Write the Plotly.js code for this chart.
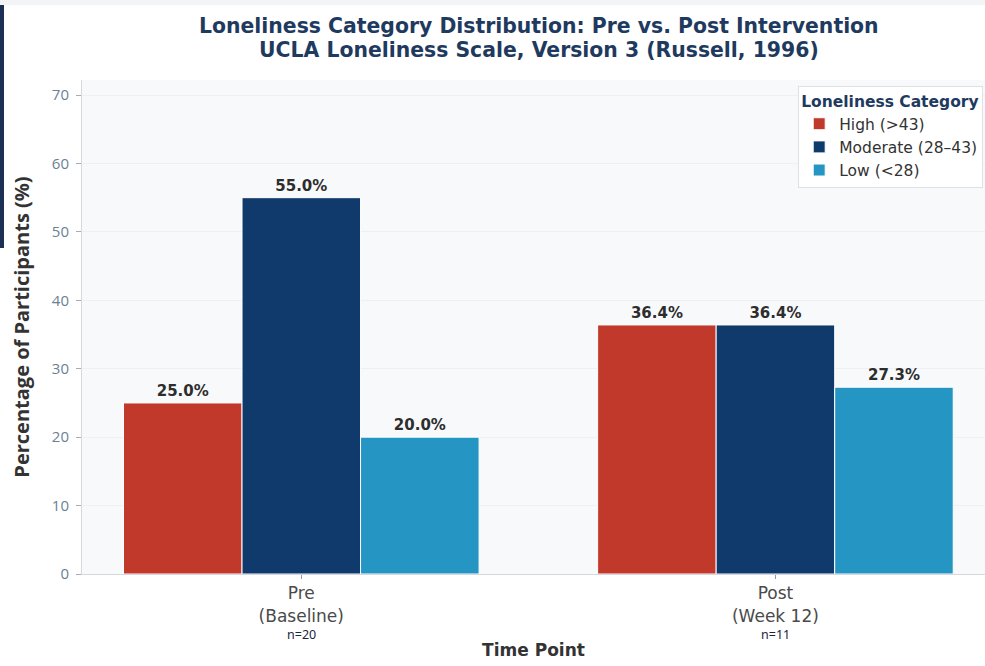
<!DOCTYPE html>
<html>
<head>
<meta charset="utf-8">
<script src="https://cdn.plot.ly/plotly-3.0.1.min.js"></script>
<style>html,body{margin:0;padding:0;overflow:hidden;background:#fff}#chart{width:985px;height:666px}</style>
</head>
<body>
<div id="chart"></div>
<script>
const timePoints = [0, 1];
const tickLabels = ["Pre<br>(Baseline)", "Post<br>(Week 12)"];
const sampleSizes = ["n=20", "n=11"];
const categories = ["High (>43)", "Moderate (28–43)", "Low (<28)"];
const highValues = [25.0, 36.4];
const moderateValues = [55.0, 36.4];
const lowValues = [20.0, 27.3];
const colors = ["#c0392b", "#0f3a6b", "#2596c4"];
const titleLines = ["Loneliness Category Distribution: Pre vs. Post Intervention", "UCLA Loneliness Scale, Version 3 (Russell, 1996)"];

const seriesValues = [highValues, moderateValues, lowValues];
const traces = categories.map((name, i) => ({
  type: "bar",
  name: name,
  x: timePoints,
  y: seriesValues[i],
  marker: {color: colors[i], line: {color: "#ffffff", width: 1}},
  text: seriesValues[i].map(v => v.toFixed(1) + "%"),
  textposition: "outside",
  cliponaxis: false,
  textfont: {family: "DejaVu Sans", size: 15, color: "#2d2d2d", weight: "bold"},
  hoverinfo: "skip"
}));

const plotTop = 80, plotBottom = 574, plotH = plotBottom - plotTop;
const pyToPaper = py => (plotBottom - py) / plotH;

const annotations = sampleSizes.map((s, i) => ({
  x: timePoints[i], xref: "x", y: pyToPaper(634), yref: "paper", yanchor: "middle",
  text: s, showarrow: false,
  font: {family: "Noto Sans", size: 12.5, color: "#1a2540"}
})).concat(titleLines.map((t, i) => ({
  x: (539 - 82) / (985 - 82), xref: "paper", y: pyToPaper(i === 0 ? 26 : 50), yref: "paper", yanchor: "middle", xanchor: "center",
  text: "<b>" + t + "</b>", showarrow: false,
  font: {family: "DejaVu Sans", size: 20.4, color: "#1f3a5f"}
})));

const layout = {
  width: 985, height: 666,
  margin: {l: 82, r: 0, t: plotTop, b: 666 - plotBottom},
  paper_bgcolor: "#ffffff",
  plot_bgcolor: "#f8f9fb",
  barmode: "group",
  bargap: 0.25,
  bargroupgap: 0,
  xaxis: {
    range: [-0.4625, 1.442],
    tickvals: timePoints,
    ticktext: tickLabels,
    tickfont: {family: "DejaVu Sans", size: 17, color: "#4a4a4a"},
    ticks: "outside", ticklen: 4, tickcolor: "#999",
    showline: true, linecolor: "#d5d9df", linewidth: 1,
    showgrid: false, zeroline: false,
    title: {text: "<b>Time Point</b>", font: {family: "DejaVu Sans", size: 17, color: "#333"}, standoff: 19},
    fixedrange: true
  },
  yaxis: {
    range: [0, 72.2],
    tickvals: [0, 10, 20, 30, 40, 50, 60, 70],
    tickfont: {family: "Open Sans", size: 15, color: "#6b7f95"},
    ticks: "outside", ticklen: 5, tickcolor: "#aab",
    ticklabelstandoff: 4,
    showline: true, linecolor: "#d5d9df", linewidth: 1,
    showgrid: true, gridcolor: "#eef0f3", gridwidth: 1,
    zeroline: false,
    title: {text: "<b>Percentage of Participants (%)</b>", font: {family: "Open Sans", size: 20, color: "#333"}, standoff: 16},
    fixedrange: true
  },
  legend: {
    title: {text: "<b>Loneliness Category</b>", font: {family: "DejaVu Sans", size: 15.5, color: "#1f3a5f"}, side: "top"},
    font: {family: "DejaVu Sans", size: 15.5, color: "#333"},
    x: 0.998, xanchor: "right", y: pyToPaper(86), yanchor: "top",
    bgcolor: "#ffffff", bordercolor: "#dde1e6", borderwidth: 1,
    tracegroupgap: 2, itemwidth: 30
  },
  shapes: [
    {type: "rect", xref: "paper", yref: "paper", x0: -82 / 903, x1: -78 / 903, y0: pyToPaper(248), y1: pyToPaper(0), fillcolor: "#1c2f55", line: {width: 0}, layer: "below"},
    {type: "rect", xref: "paper", yref: "paper", x0: -82 / 903, x1: 1, y0: pyToPaper(5), y1: pyToPaper(0), fillcolor: "#f3f4f6", line: {width: 0}, layer: "below"}
  ],
  annotations: annotations,
  showlegend: true
};

Plotly.newPlot("chart", traces, layout, {displayModeBar: false, staticPlot: true});
</script>
</body>
</html>
